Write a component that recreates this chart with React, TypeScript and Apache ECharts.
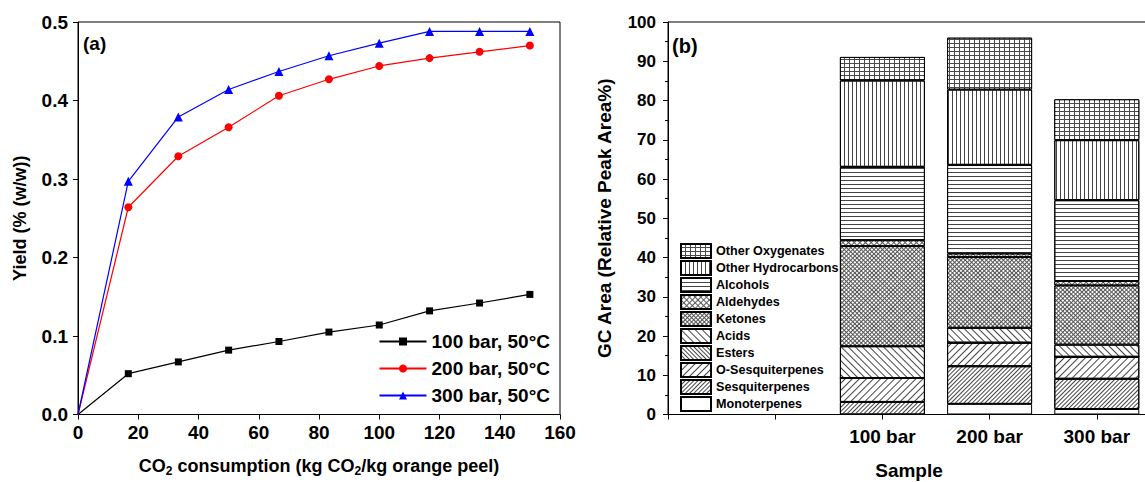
import React, { useEffect, useRef } from 'react';
import * as echarts from 'echarts';

// ---------- Panel (a): yield curves ----------
const co2Consumption = [0, 16.7, 33.3, 50, 66.7, 83.3, 100, 116.7, 133.3, 150];
const yield100bar = [0, 0.052, 0.067, 0.082, 0.093, 0.105, 0.114, 0.132, 0.142, 0.153];
const yield200bar = [0, 0.264, 0.329, 0.366, 0.406, 0.427, 0.444, 0.454, 0.462, 0.47];
const yield300bar = [0, 0.297, 0.379, 0.414, 0.437, 0.457, 0.473, 0.488, 0.488, 0.488];
const lineSeriesNames = ['100 bar, 50°C', '200 bar, 50°C', '300 bar, 50°C'];

// ---------- Panel (b): GC composition ----------
const sampleCategories = ['', '', '100 bar', '200 bar', '300 bar', ''];
const sampleNames = ['100 bar', '200 bar', '300 bar'];
const componentNames = [
  'Monoterpenes',
  'Sesquiterpenes',
  'O-Sesquiterpenes',
  'Esters',
  'Acids',
  'Ketones',
  'Aldehydes',
  'Alcohols',
  'Other Hydrocarbons',
  'Other Oxygenates',
];
const monoterpenes = [0, 2.7, 1.4];
const sesquiterpenes = [3.2, 9.6, 7.7];
const oSesquiterpenes = [6.1, 6.0, 5.6];
const esters = [0, 0, 0];
const acids = [8.1, 3.8, 3.1];
const ketones = [25.5, 18.0, 15.1];
const aldehydes = [1.5, 0.9, 1.1];
const alcohols = [18.7, 22.6, 20.6];
const otherHydrocarbons = [22.0, 19.2, 15.3];
const otherOxygenates = [6.0, 13.2, 10.4];
const componentValues = [
  monoterpenes,
  sesquiterpenes,
  oSesquiterpenes,
  esters,
  acids,
  ketones,
  aldehydes,
  alcohols,
  otherHydrocarbons,
  otherOxygenates,
];

const FONT = '"Liberation Sans", Arial, Helvetica, sans-serif';
const Q = Math.PI / 4;
const HATCH = '#444';

// fill colour + decal for each component (bottom to top)
const barFills = ['#fff', '#fff', '#fff', '#fff', '#fff', '#555', '#5a5a5a', '#fff', '#fff', '#4a4a4a'];
const decals: any[] = [
  null,
  { color: HATCH, dashArrayX: [[8, 0]], dashArrayY: [1, 2], rotation: -Q },
  { color: HATCH, dashArrayX: [[8, 0]], dashArrayY: [1, 4], rotation: -Q },
  { color: HATCH, dashArrayX: [[8, 0]], dashArrayY: [1, 2], rotation: Q },
  { color: HATCH, dashArrayX: [[8, 0]], dashArrayY: [1, 4], rotation: Q },
  { color: '#fff', dashArrayX: [[2, 1]], dashArrayY: [2, 1], rotation: Q },
  { color: '#fff', dashArrayX: [[3, 1]], dashArrayY: [3, 1], rotation: Q },
  { color: HATCH, dashArrayX: [[8, 0]], dashArrayY: [1, 3] },
  { color: HATCH, dashArrayX: [[1, 3]], dashArrayY: [8, 0] },
  { color: '#fff', dashArrayX: [[4, 1]], dashArrayY: [3, 1] },
];

const lineColors = ['#000000', '#ff0000', '#0000ff'];
const lineSymbols = ['rect', 'circle', 'triangle'];
const lineSymbolSizes = [7, 8, 9];
const yieldSeries = [yield100bar, yield200bar, yield300bar];

const axisLineStyle = { lineStyle: { color: '#000', width: 1 } };
const labelBase = { fontFamily: FONT, fontWeight: 'bold' as const, color: '#000' };

function buildOption() {
  const lineSeries = lineSeriesNames.map((name, s) => ({
    name,
    type: 'line',
    xAxisIndex: 0,
    yAxisIndex: 0,
    symbol: lineSymbols[s],
    symbolSize: lineSymbolSizes[s],
    color: lineColors[s],
    lineStyle: { width: 1.2, color: lineColors[s] },
    itemStyle: { color: lineColors[s] },
    z: 3 + s,
    data: co2Consumption.map((x, i) =>
      i === 0 ? { value: [x, yieldSeries[s][i]], symbol: 'none' } : [x, yieldSeries[s][i]]
    ),
  }));

  const barSeries = componentNames.map((name, k) => {
    const itemStyle: any = { color: barFills[k], borderColor: '#000', borderWidth: 1 };
    if (decals[k]) itemStyle.decal = { symbol: 'rect', symbolSize: 1, symbolKeepAspect: false, ...decals[k] };
    return {
      name,
      type: 'bar',
      stack: 'gc',
      xAxisIndex: 1,
      yAxisIndex: 1,
      barWidth: 85,
      itemStyle,
      data: sampleCategories.map((c) => {
        const i = sampleNames.indexOf(c);
        return i < 0 ? '-' : componentValues[k][i];
      }),
    };
  });

  return {
    animation: false,
    backgroundColor: '#fff',
    grid: [
      {
        left: 78, top: 22, width: 482, height: 392.5,
        show: true, borderColor: '#000', borderWidth: 1,
        containLabel: false, outerBoundsMode: 'none',
      },
      {
        left: 668, top: 22, width: 536, height: 392.5,
        show: true, borderColor: '#000', borderWidth: 1,
        containLabel: false, outerBoundsMode: 'none',
      },
    ],
    xAxis: [
      {
        gridIndex: 0,
        type: 'value',
        min: 0,
        max: 160,
        interval: 20,
        axisLine: axisLineStyle,
        axisTick: { show: true, length: 5, lineStyle: { color: '#000' } },
        splitLine: { show: false },
        axisLabel: { ...labelBase, fontSize: 19, margin: 8 },
        name: 'CO{sub|2} consumption (kg CO{sub|2}/kg orange peel)',
        nameLocation: 'middle',
        nameGap: 40,
        nameTextStyle: {
          ...labelBase,
          fontSize: 18,
          rich: { sub: { ...labelBase, fontSize: 12, padding: [10, 0, 0, 0] } },
        },
      },
      {
        gridIndex: 1,
        type: 'category',
        data: sampleCategories,
        boundaryGap: false,
        axisLine: axisLineStyle,
        axisTick: { show: true, length: 5, interval: 0, lineStyle: { color: '#000' } },
        splitLine: { show: false },
        axisLabel: { ...labelBase, fontSize: 19, margin: 12, interval: 0 },
      },
    ],
    yAxis: [
      {
        gridIndex: 0,
        type: 'value',
        min: 0,
        max: 0.5,
        interval: 0.1,
        axisLine: { show: true, ...axisLineStyle },
        axisTick: { show: true, length: 5, lineStyle: { color: '#000' } },
        splitLine: { show: false },
        axisLabel: { ...labelBase, fontSize: 19, margin: 10, formatter: (v: number) => v.toFixed(1) },
        name: 'Yield (% (w/w))',
        nameLocation: 'middle',
        nameGap: 49,
        nameTextStyle: { ...labelBase, fontSize: 18 },
      },
      {
        gridIndex: 1,
        type: 'value',
        min: 0,
        max: 100,
        interval: 10,
        axisLine: { show: true, ...axisLineStyle },
        axisTick: { show: true, length: 5, lineStyle: { color: '#000' } },
        minorTick: { show: true, splitNumber: 2, length: 3, lineStyle: { color: '#000' } },
        splitLine: { show: false },
        axisLabel: { ...labelBase, fontSize: 17, margin: 12 },
        name: 'GC Area (Relative Peak Area%)',
        nameLocation: 'middle',
        nameGap: 54,
        nameTextStyle: { ...labelBase, fontSize: 19 },
      },
    ],
    legend: [
      {
        data: lineSeriesNames,
        orient: 'vertical',
        right: 590,
        top: 327,
        itemWidth: 47,
        itemHeight: 10,
        itemGap: 8,
        selectedMode: false,
        textStyle: { ...labelBase, fontSize: 19 },
      },
      {
        data: componentNames.slice().reverse(),
        orient: 'vertical',
        left: 675,
        top: 238,
        itemWidth: 30,
        itemHeight: 14,
        itemGap: 1,
        icon: 'rect',
        selectedMode: false,
        textStyle: { ...labelBase, fontSize: 12.6, lineHeight: 14 },
      },
    ],
    graphic: [
      { type: 'text', left: 83, top: 34, style: { text: '(a)', font: `bold 19px ${FONT}`, fill: '#000' } },
      { type: 'text', left: 672, top: 36, style: { text: '(b)', font: `bold 20px ${FONT}`, fill: '#000' } },
      {
        type: 'text',
        x: 909,
        y: 470,
        style: { text: 'Sample', font: `bold 19px ${FONT}`, fill: '#000', align: 'center', verticalAlign: 'middle' },
      },
    ],
    series: [...lineSeries, ...barSeries],
  };
}

export default function App() {
  const ref = useRef<HTMLDivElement>(null);
  useEffect(() => {
    if (!ref.current) return;
    const chart = echarts.init(ref.current, null, { renderer: 'svg' });
    chart.setOption(buildOption() as any);
    return () => chart.dispose();
  }, []);
  return (
    <div
      ref={ref}
      style={{ position: 'fixed', left: 0, top: 0, width: 1145, height: 482, background: '#fff' }}
    />
  );
}
